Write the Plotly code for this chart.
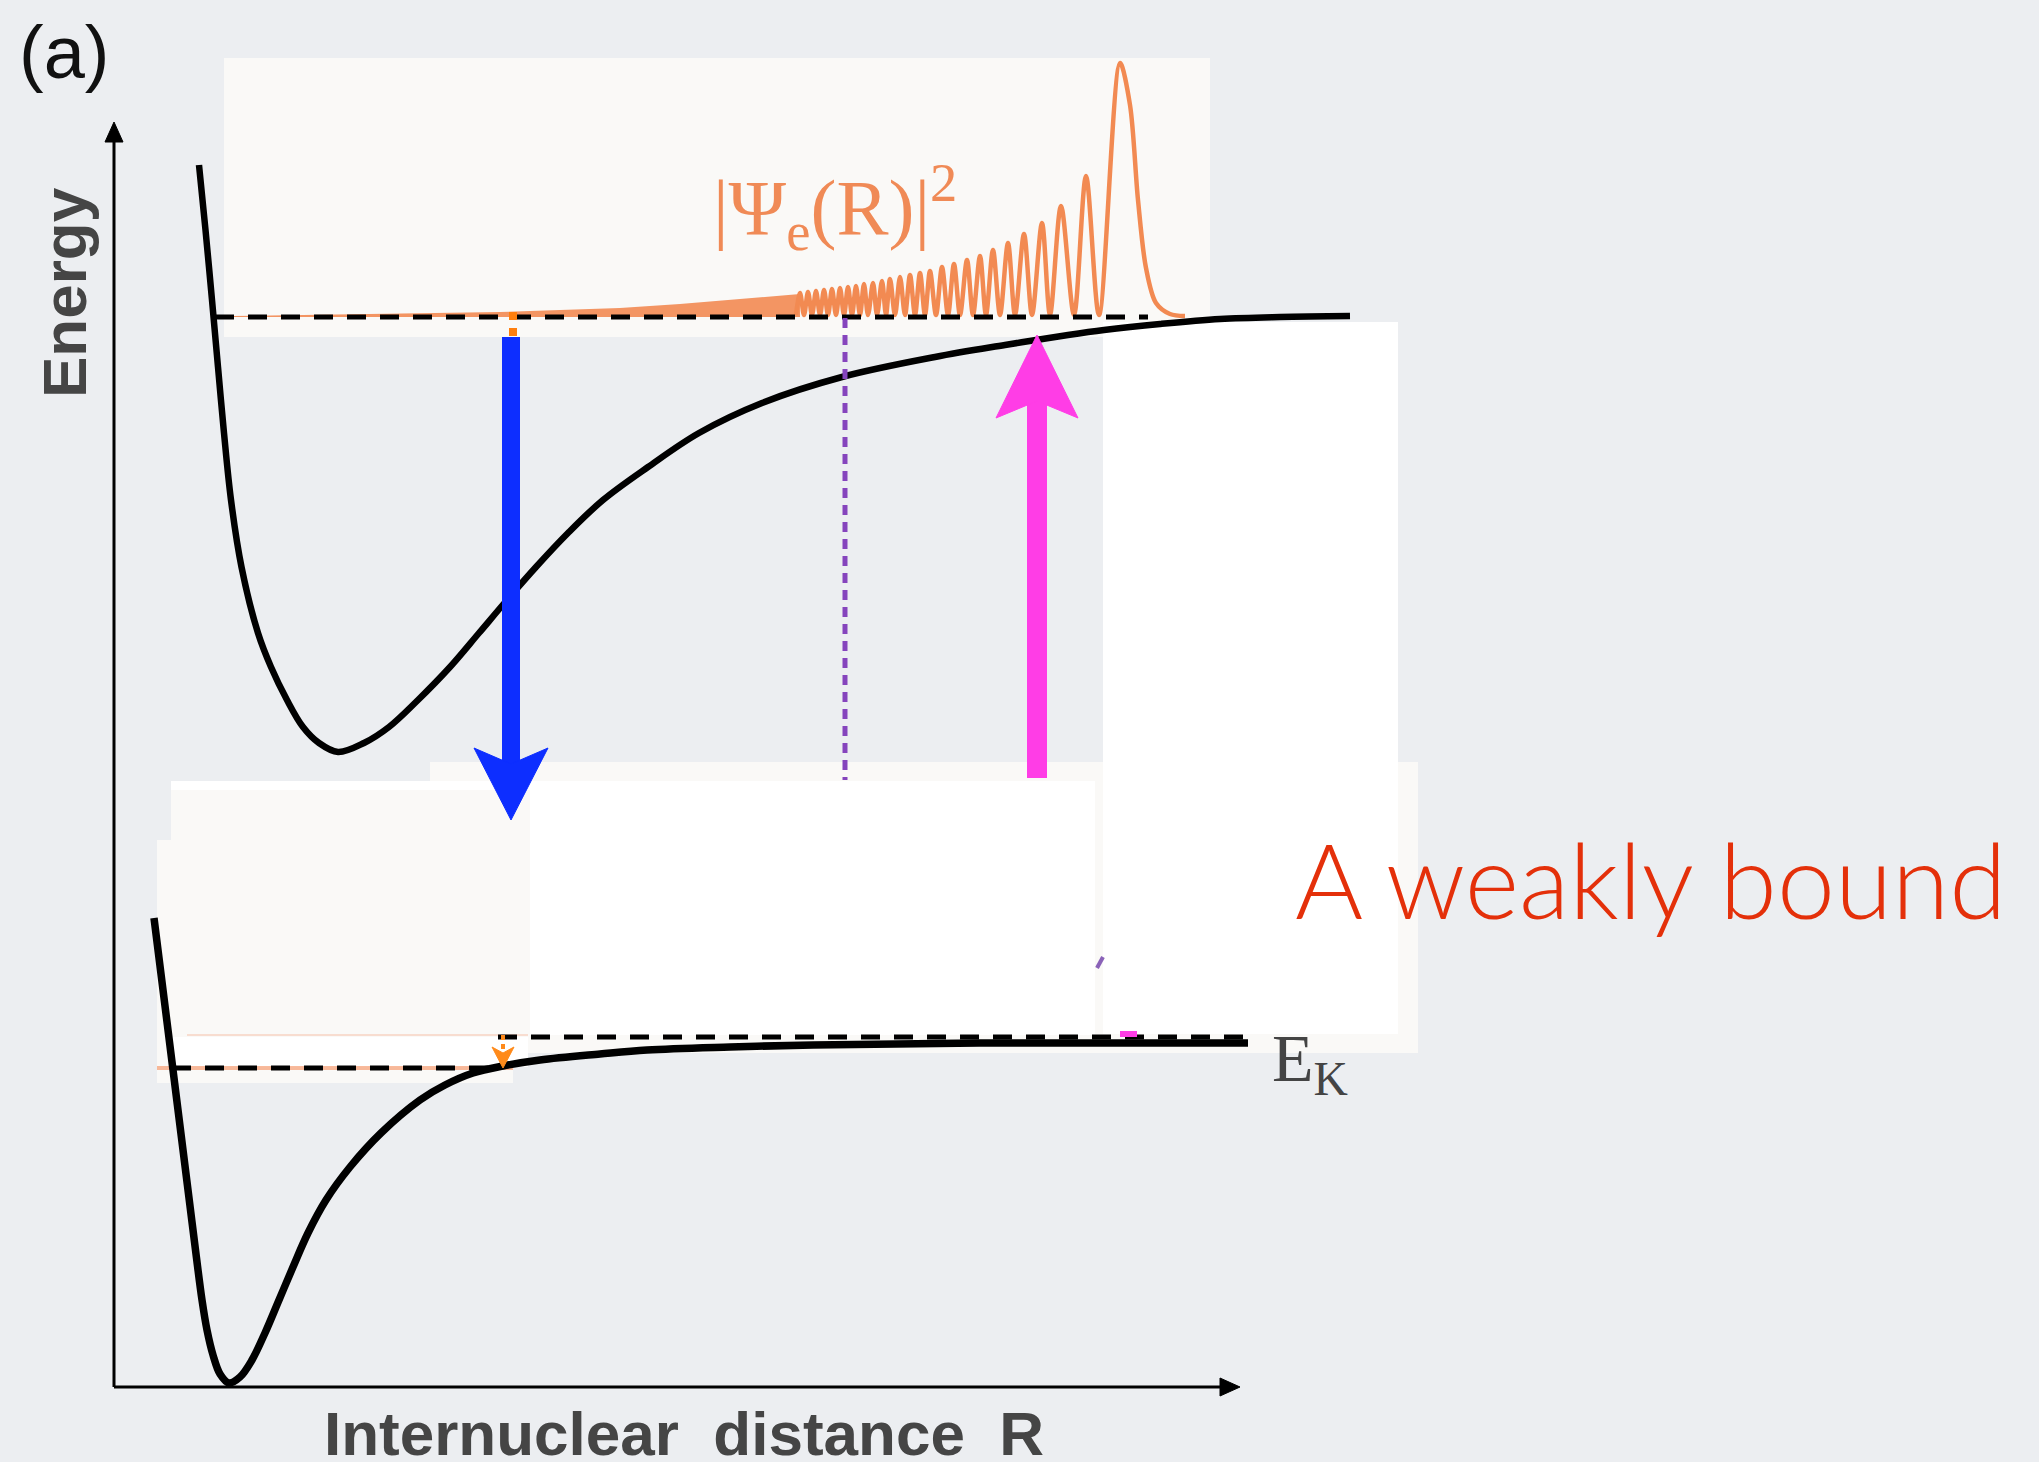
import plotly.graph_objects as go

W, H = 2039, 1462
BG = "#eceef1"
OFFWHITE = "#faf9f7"
WHITE = "#ffffff"

# ---- data (diagram units = pixel positions of the reference) ----
# upper (excited) potential curve
R_up = [199, 205.5, 212, 218, 224, 231, 241.5, 258, 271, 287, 303, 319, 338, 364, 389, 418, 450, 479, 507,
        536, 568, 603, 648, 699, 762, 842, 935, 1005, 1068, 1104, 1160, 1220, 1280, 1350]
E_up = [165, 230, 300, 367, 433, 500, 567, 633, 667, 700, 727, 743, 752, 743, 727, 700, 667, 633, 600,
        567, 533, 500, 467, 433, 403, 377, 357, 345, 335, 330, 324, 319, 317, 316]

# lower (ground) potential curve
R_lo = [154, 160, 166, 172, 178, 184, 190, 196, 202, 207, 213, 220, 229, 240, 252, 265, 279, 293, 308,
        326, 350, 381, 420, 445, 473, 503, 540, 600, 647, 730, 813, 979, 1248]
E_lo = [918, 966, 1014, 1062, 1110, 1158, 1206, 1254, 1300, 1330, 1355, 1374, 1383, 1377, 1360, 1333,
        1300, 1267, 1233, 1200, 1167, 1133, 1100, 1085, 1073, 1066, 1060, 1054, 1050, 1047, 1045, 1043, 1043]

# |Psi_e(R)|^2 : resolved peaks, troughs and tail
peak_R = [800, 808, 816, 824, 832, 840, 848, 856, 864, 873, 882, 890, 900, 910, 920, 930, 942, 954,
          967, 980, 993, 1008, 1024, 1042, 1061, 1086, 1120]
peak_E = [293, 292, 291, 290, 289, 288, 287, 286, 284, 283, 281, 279, 277, 275, 273, 271, 267, 264,
          260, 256, 250, 243, 234, 223, 206, 176, 63]
trough_R = [796, 804, 812, 820, 828, 836, 844, 852, 860, 868, 877, 886, 895, 905, 915, 925, 936, 948,
            960, 973, 986, 1000, 1015, 1032, 1050, 1074, 1099]
trough_E = 315
tail_R = [1130, 1138, 1146, 1156, 1170, 1185]
tail_E = [105, 200, 268, 303, 314, 316]
# unresolved (dense) part of the oscillation: envelope
band_R = [232, 300, 400, 500, 560, 620, 680, 740, 800]
band_E = [316, 315, 314, 312, 310, 308, 304, 299, 294]

# energy levels (dashed)
lvl_upper = dict(y=317, x0=215, x1=1148)
lvl_mid = dict(y=1037, x0=498, x1=1248)
lvl_low = dict(y=1068, x0=172, x1=500)

# transitions
blue_arrow = dict(x=511, tail=337, tip=820, color="#0d2eff")
pink_arrow = dict(x=1037, tail=778, tip=335, color="#ff3de6")
purple_R, purple_E0, purple_E1 = 845, 318, 780
orange_R, orange_E0, orange_E1 = 513, 312, 336
small_orange = dict(x=503, tail=1035, tip=1068)

# cover boxes (x0, y0, x1, y1, colour)
boxes = [
    (224, 58, 1210, 337, OFFWHITE),
    (430, 762, 1418, 1053, OFFWHITE),
    (157, 840, 513, 1083, OFFWHITE),
    (171, 781, 530, 1036, WHITE),
    (171, 790, 530, 1036, OFFWHITE),
    (530, 781, 1095, 1035, WHITE),
    (1103, 322, 1398, 1034, WHITE),
    (172, 1037, 528, 1067, WHITE),
]

# axes
axis_origin = (114, 1387)
axis_top = 122
axis_right = 1240

fig = go.Figure()

# orange wavefunction: band + resolved oscillations
fig.add_trace(go.Scatter(x=band_R + band_R[::-1], y=band_E + [317] * len(band_R), fill="toself",
                         fillcolor="rgba(242,138,82,0.9)", line=dict(width=0), mode="lines",
                         hoverinfo="skip"))
wx, wy = [], []
for tr, pr, pe in zip(trough_R, peak_R, peak_E):
    wx += [tr, pr]
    wy += [trough_E, pe]
wx += tail_R
wy += tail_E
fig.add_trace(go.Scatter(x=wx, y=wy, mode="lines",
                         line=dict(color="#f28a52", width=4.5, shape="spline", smoothing=0.9),
                         hoverinfo="skip"))

# faint orange levels under lower dashed lines
fig.add_trace(go.Scatter(x=[157, 513], y=[1068, 1068], mode="lines",
                         line=dict(color="rgba(245,140,90,0.6)", width=4), hoverinfo="skip"))
fig.add_trace(go.Scatter(x=[187, 528], y=[1035, 1035], mode="lines",
                         line=dict(color="rgba(245,140,90,0.25)", width=2), hoverinfo="skip"))

# dashed levels
for lv in (lvl_upper, lvl_mid, lvl_low):
    fig.add_trace(go.Scatter(x=[lv["x0"], lv["x1"]], y=[lv["y"], lv["y"]], mode="lines",
                             line=dict(color="black", width=5, dash="19px,14px"), hoverinfo="skip"))

# potential curves
fig.add_trace(go.Scatter(x=R_up, y=E_up, mode="lines",
                         line=dict(color="black", width=6.5, shape="spline", smoothing=1.0),
                         hoverinfo="skip"))
fig.add_trace(go.Scatter(x=R_lo, y=E_lo, mode="lines",
                         line=dict(color="black", width=7.5, shape="spline", smoothing=1.0),
                         hoverinfo="skip"))

# purple dotted
fig.add_trace(go.Scatter(x=[purple_R, purple_R], y=[purple_E0, purple_E1], mode="lines",
                         line=dict(color="#8544bd", width=5, dash="10px,7px"), hoverinfo="skip"))
fig.add_trace(go.Scatter(x=[1097, 1103], y=[968, 957], mode="lines",
                         line=dict(color="#8a62b8", width=4), hoverinfo="skip"))
# orange dashed stub above blue arrow
fig.add_trace(go.Scatter(x=[orange_R, orange_R], y=[orange_E0, orange_E1], mode="lines",
                         line=dict(color="#ff7f0e", width=8, dash="8px,8px"), hoverinfo="skip"))
# magenta remnant
fig.add_trace(go.Scatter(x=[1120, 1137], y=[1034, 1034], mode="lines",
                         line=dict(color="#ff3de6", width=6), hoverinfo="skip"))


def arrow(x, tail, tip, color, width, hl, hw, notch):
    s = 1 if tip > tail else -1
    base = tip - s * hl
    nt = tip - s * (hl - notch)
    fig.add_trace(go.Scatter(x=[x, x], y=[tail, nt], mode="lines",
                             line=dict(color=color, width=width), hoverinfo="skip"))
    fig.add_trace(go.Scatter(x=[x, x + hw, x, x - hw, x], y=[tip, base, nt, base, tip], mode="lines",
                             fill="toself", fillcolor=color, line=dict(color=color, width=1),
                             hoverinfo="skip"))


arrow(blue_arrow["x"], blue_arrow["tail"], blue_arrow["tip"], blue_arrow["color"], 18, 72, 37, 16)
arrow(pink_arrow["x"], pink_arrow["tail"], pink_arrow["tip"], pink_arrow["color"], 20, 83, 41, 17)

# small orange arrow
fig.add_trace(go.Scatter(x=[small_orange["x"]] * 2, y=[small_orange["tail"], small_orange["tip"] - 18],
                         mode="lines", line=dict(color="#ff8a1a", width=4, dash="5px,4px"), hoverinfo="skip"))
sx, st = small_orange["x"], small_orange["tip"]
fig.add_trace(go.Scatter(x=[sx, sx + 11, sx, sx - 11, sx], y=[st, st - 21, st - 15, st - 21, st], mode="lines",
                         fill="toself", fillcolor="#ff8a1a", line=dict(color="#ff8a1a", width=1),
                         hoverinfo="skip"))

# axes with arrow heads
ox, oy = axis_origin
fig.add_trace(go.Scatter(x=[ox, ox, None, ox, axis_right - 14], y=[oy, axis_top + 14, None, oy, oy],
                         mode="lines", line=dict(color="black", width=3), hoverinfo="skip"))
fig.add_trace(go.Scatter(x=[ox - 9, ox, ox + 9, ox - 9], y=[axis_top + 20, axis_top, axis_top + 20, axis_top + 20],
                         mode="lines", fill="toself", fillcolor="black", line=dict(color="black", width=1),
                         hoverinfo="skip"))
fig.add_trace(go.Scatter(x=[axis_right - 20, axis_right, axis_right - 20, axis_right - 20],
                         y=[oy - 9, oy, oy + 9, oy - 9], mode="lines", fill="toself", fillcolor="black",
                         line=dict(color="black", width=1), hoverinfo="skip"))

shapes = [dict(type="rect", xref="x", yref="y", x0=b[0], y0=b[1], x1=b[2], y1=b[3], fillcolor=b[4],
               line=dict(width=0), layer="below") for b in boxes]

LABEL = "#454545"
SANS = "Liberation Sans, Arial, sans-serif"
annotations = [
    dict(x=64, y=52, text="(a)", font=dict(family=SANS, size=74, color="#111111")),
    dict(x=64, y=293, text="<b>Energy</b>", textangle=-90, font=dict(family=SANS, size=62, color=LABEL)),
    dict(x=684, y=1433, text="<b>Internuclear\u00a0 distance\u00a0 R</b>",
         font=dict(family=SANS, size=62, color=LABEL)),
    dict(x=711, y=207, xanchor="left", text="|Ψ<sub>e</sub>(R)|<sup>2</sup>",
         font=dict(family="Liberation Serif, Times New Roman, serif", size=78, color="#f08a56")),
    dict(x=1270, y=1062, xanchor="left", text="E<sub>K</sub>",
         font=dict(family="Liberation Serif, Times New Roman, serif", size=68, color="#444444")),
    dict(x=1293, y=878, xanchor="left", text="A weakly bound",
         font=dict(family="Lato, Open Sans, sans-serif", size=104, color="#e4300a", weight=300)),
]
for a in annotations:
    a.update(xref="x", yref="y", showarrow=False)
    a.setdefault("xanchor", "center")
    a.setdefault("yanchor", "middle")

fig.update_layout(
    width=W, height=H, margin=dict(l=0, r=0, t=0, b=0),
    paper_bgcolor=BG, plot_bgcolor=BG, showlegend=False,
    xaxis=dict(range=[0, W], visible=False, fixedrange=True),
    yaxis=dict(range=[H, 0], visible=False, fixedrange=True),
    shapes=shapes, annotations=annotations,
)

fig.write_html("out.html", config={"displayModeBar": False},
               post_script="document.body.style.margin='0';document.body.style.overflow='hidden';")
